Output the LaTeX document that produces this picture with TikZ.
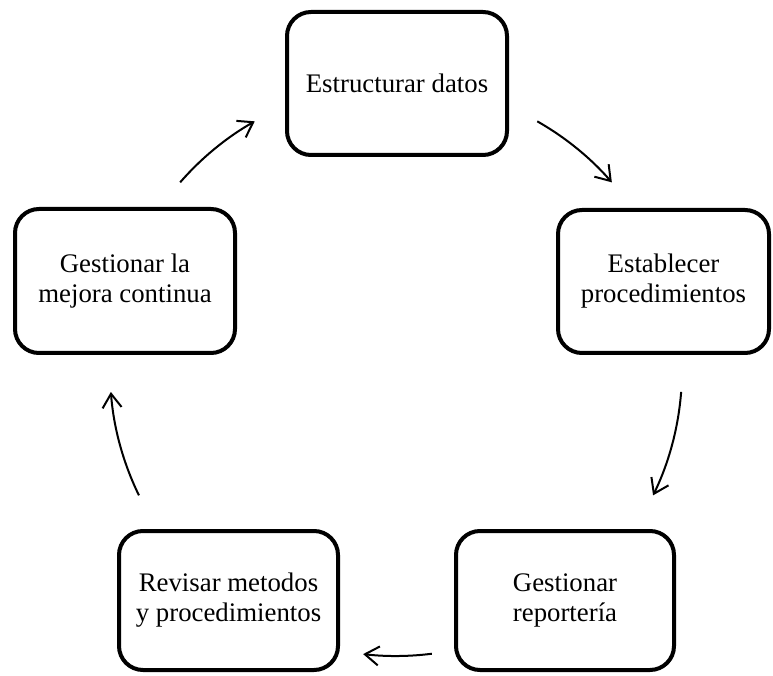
\documentclass[tikz,border=0pt]{standalone}
\usepackage{fontspec}
\setmainfont{Liberation Serif}
\usetikzlibrary{arrows.meta,calc}
\begin{document}
\begin{tikzpicture}[x=1pt,y=1pt,
  box/.style={draw, line width=4pt, rounded corners=24pt, fill=white,
    align=center, inner sep=0pt, font=\fontsize{26.8}{30}\selectfont},
  cyc/.style={line width=2pt, -{Straight Barb[length=14pt,width=19pt,line width=2pt]}}
]
\useasboundingbox (0,0) rectangle (773,675);
\node[box, minimum width=220pt, minimum height=143pt] (b1) at (397,591.5) {Estructurar datos};
\node[box, minimum width=211pt, minimum height=143pt] (b2) at (663.5,393.5) {Establecer\\procedimientos};
\node[box, minimum width=218pt, minimum height=139pt] (b3) at (565,74.5) {Gestionar\\reporter\'ia};
\node[box, minimum width=219pt, minimum height=139pt] (b4) at (228.5,74.5) {Revisar metodos\\y procedimientos};
\node[box, minimum width=220pt, minimum height=144pt] (b5) at (125,394) {Gestionar la\\mejora continua};
\coordinate (c) at (396,305);
\coordinate (s1) at ($(c)+(139:286)$);
\coordinate (s2) at ($(c)+(60.4:286)$);
\coordinate (s3) at ($(c)+(-4.4:286)$);
\coordinate (s4) at ($(c)+(-82.8:286)$);
\coordinate (s5) at ($(c)+(206:286)$);
\draw[cyc] (s1) arc[start angle=139, end angle=119.6, radius=286];
\draw[cyc] (s2) arc[start angle=60.4, end angle=41, radius=286];
\draw[cyc] (s3) arc[start angle=-4.4, end angle=-26, radius=286];
\draw[cyc] (s4) arc[start angle=-82.8, end angle=-96.6, radius=286];
\draw[cyc] (s5) arc[start angle=206, end angle=184.4, radius=286];
\end{tikzpicture}
\end{document}
